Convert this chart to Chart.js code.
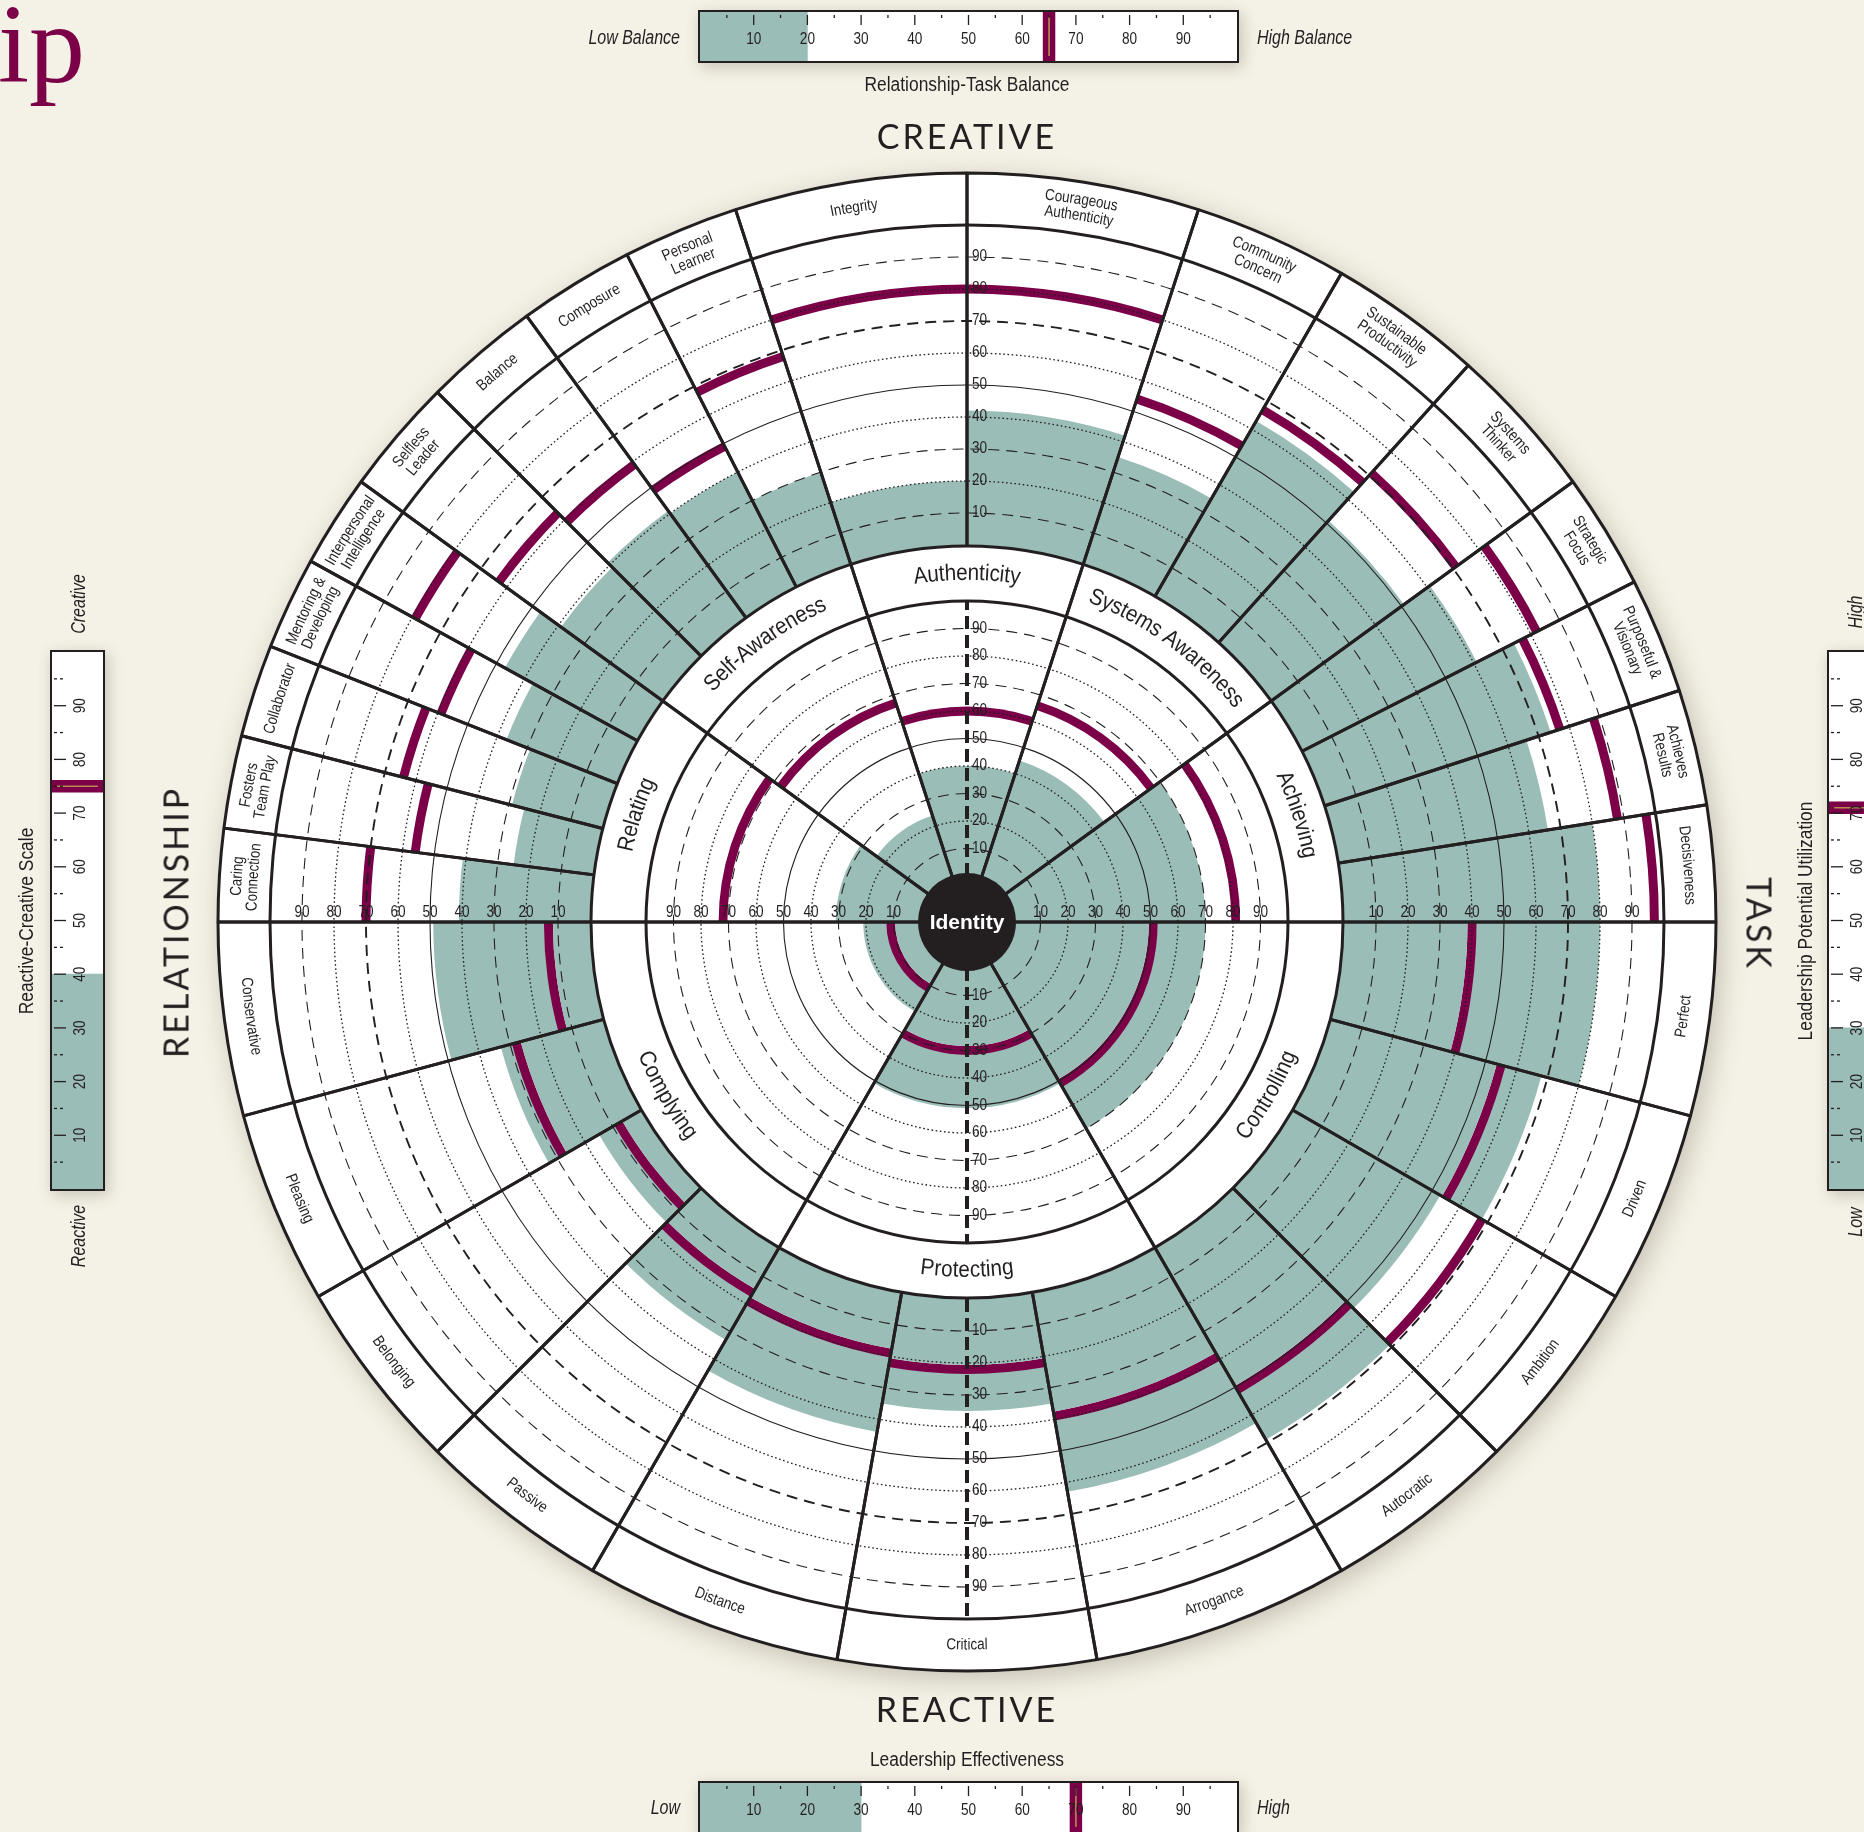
<!DOCTYPE html>
<html lang="en">
<head>
<meta charset="utf-8">
<title>Leadership Circle</title>
<script src="https://cdn.jsdelivr.net/npm/chart.js@4.4.1/dist/chart.umd.min.js"></script>
<style>
  html, body { margin: 0; padding: 0; }
  body {
    width: 1864px; height: 1832px; position: relative; overflow: hidden;
    background: #f4f1e6; color: #231f20;
    font-family: "Liberation Sans", Arial, sans-serif;
  }
  .t { position: absolute; white-space: nowrap; transform: translate(-50%, -50%) scaleX(0.87); }
  .t.it { transform: translate(-50%, -50%) scaleX(0.8); }
  .t.ra { transform-origin: 100% 50%; transform: translate(-100%, -50%) scaleX(0.8); }
  .t.la { transform-origin: 0 50%; transform: translate(0, -50%) scaleX(0.8); }
  .t.up { transform: translate(-50%, -50%) rotate(-90deg) scaleX(0.87); }
  .t.up.it { transform: translate(-50%, -50%) rotate(-90deg) scaleX(0.8); }
  .t.down { transform: translate(-50%, -50%) rotate(90deg); }
  .note { font-size: 20px; }
  .it { font-style: italic; }
  .t.big { font-family: Lato, "Open Sans", sans-serif; font-size: 34px; letter-spacing: 3px; }
  .t.big.up { transform: translate(-50%, -50%) rotate(-90deg); }
  .t.big:not(.up):not(.down) { transform: translate(-50%, -50%); }
  .halo {
    position: absolute; left: 218px; top: 173px; width: 1498px; height: 1498px;
    border-radius: 50%; box-shadow: 5px 7px 28px rgba(70, 60, 40, 0.28);
  }
  .bar {
    position: absolute; box-sizing: border-box; border: 2px solid #231f20;
    background: #fff; box-shadow: 3px 4px 14px rgba(70, 60, 40, 0.25);
  }
  .bar canvas { display: block; }
  #wheel { position: absolute; left: 0; top: 0; }
  .brand {
    position: absolute; left: -58px; top: -12px; font-family: "Liberation Serif", serif;
    font-size: 112px; line-height: 112px; color: #7b0048;
  }
</style>
</head>
<body>
<div class="brand">hip</div>
<div class="halo"></div>
<canvas id="wheel" width="1864" height="1832"></canvas>

<div class="bar" style="left:698px; top:10px; width:541px; height:53px;"><canvas id="bar0" width="537" height="49"></canvas></div>
<div class="bar" style="left:698px; top:1781px; width:541px; height:53px;"><canvas id="bar1" width="537" height="49"></canvas></div>
<div class="bar" style="left:50px; top:650px; width:55px; height:541px;"><canvas id="bar2" width="51" height="537"></canvas></div>
<div class="bar" style="left:1827px; top:650px; width:55px; height:541px;"><canvas id="bar3" width="51" height="537"></canvas></div>

<div class="t note it ra" style="left:680px; top:37px;">Low Balance</div>
<div class="t note it la" style="left:1257px; top:37px;">High Balance</div>
<div class="t note" id="title0" style="left:967px; top:84px;"></div>
<div class="t note" id="title1" style="left:967px; top:1759px;"></div>
<div class="t note it ra" style="left:680px; top:1807px;">Low</div>
<div class="t note it la" style="left:1257px; top:1807px;">High</div>
<div class="t note up" id="title2" style="left:26px; top:921px;"></div>
<div class="t note it up" style="left:78px; top:604px;">Creative</div>
<div class="t note it up" style="left:78px; top:1236px;">Reactive</div>
<div class="t note up" id="title3" style="left:1805px; top:921px;"></div>
<div class="t note it up" style="left:1855px; top:612px;">High</div>
<div class="t note it up" style="left:1855px; top:1222px;">Low</div>

<div class="t big" style="left:967px; top:135px;">CREATIVE</div>
<div class="t big" style="left:967px; top:1708px;">REACTIVE</div>
<div class="t big up" style="left:175px; top:922px;">RELATIONSHIP</div>
<div class="t big down" style="left:1760px; top:924px;">TASK</div>

<script>
// ---- data ----
const INNER_NAMES = ["Relating", "Self-Awareness", "Authenticity", "Systems Awareness",
                     "Achieving", "Controlling", "Protecting", "Complying"];
const INNER_SIZE = [5, 4, 2, 3, 4, 4, 3, 4];   // outer dimensions in each summary group
const INNER_PCT = [31, 24, 40, 45, 70, 70, 51, 21];
const INNER_SCORE = [72, 67, 60, 66, 81, 51, 30, 11];

const OUTER_NAMES = [
  ["Caring", "Connection"], ["Fosters", "Team Play"], ["Collaborator"], ["Mentoring &", "Developing"],
  ["Interpersonal", "Intelligence"], ["Selfless", "Leader"], ["Balance"], ["Composure"],
  ["Personal", "Learner"], ["Integrity"], ["Courageous", "Authenticity"], ["Community", "Concern"],
  ["Sustainable", "Productivity"], ["Systems", "Thinker"], ["Strategic", "Focus"],
  ["Purposeful &", "Visionary"], ["Achieves", "Results"], ["Decisiveness"],
  ["Perfect"], ["Driven"], ["Ambition"], ["Autocratic"], ["Arrogance"], ["Critical"],
  ["Distance"], ["Passive"], ["Belonging"], ["Pleasing"], ["Conservative"]
];
const OUTER_PCT = [41, 25, 29, 37, 47, 39, 41, 40, 30, 20, 42, 35, 63, 51, 61, 74, 66, 80,
                   80, 68, 53, 69, 63, 35, 44, 33, 15, 33, 49];
const OUTER_SCORE = [70, 56, 64, 59, 79, 63, 59, 49, 68, 80, 80, 54, 67, 71, 82, 77, 88, 97,
                     40, 55, 68, 51, 39, 22, 19, 16, 8, 28, 13];

const SCALE_TICKS = [10, 20, 30, 40, 50, 60, 70, 80, 90];

const BAR_NAMES = ["Relationship-Task Balance", "Leadership Effectiveness",
                   "Reactive-Creative Scale", "Leadership Potential Utilization"];
const BAR_PCT = [20, 30, 40, 30];
const BAR_SCORE = [65, 70, 75, 71];

// ---- layout ----
const INK = "#231f20", TEAL = "#9bbdb7", PLUM = "#7b0048", WHITE = "#ffffff";
const SANS = '"Liberation Sans", Arial, sans-serif';
const INNER_SPAN = [36, 36, 36, 36, 36, 60, 60, 60];
const OUTER_SPAN = INNER_SPAN.flatMap((s, g) => Array(INNER_SIZE[g]).fill(s / INNER_SIZE[g]));

const DRAW_R = 760;                 // radius of the chart area
const RIM_R = 749, BAND_R = 376, IDENT_R = 49;

function radialRange(r0, r100) {
  const k = (r100 - r0) / 100;
  const min = -r0 / k;
  return { min, max: min + DRAW_R / k, at: r => min + r / k };
}
const OUT = radialRange(377, 697);
const IN = radialRange(46, 321);

BAR_NAMES.forEach((n, i) => { document.getElementById("title" + i).textContent = n; });

// ---- wheel ----
const fill = (axis, data, spans, color, order) =>
  ({ rAxisID: axis, data, angle: spans, backgroundColor: color, borderWidth: 0, order });
const outline = (axis, value, spans, order) =>
  ({ rAxisID: axis, data: spans.map(() => value), angle: spans,
     backgroundColor: "rgba(0,0,0,0)", borderColor: INK, borderWidth: 3, order });

function layers(axis, pct, score, half, spans, base) {
  return [
    fill(axis, pct, spans, TEAL, base + 4),
    fill(axis, score.map(v => v + half), spans, PLUM, base + 3),
    fill(axis, score.map(v => v - half), spans, WHITE, base + 2),
    fill(axis, pct.map((p, i) => Math.min(p, score[i] - half)), spans, TEAL, base + 1)
  ];
}

function ringScale(range, bold70) {
  return {
    type: "radialLinear", axis: "r", startAngle: 270, min: range.min, max: range.max,
    afterBuildTicks: s => { s.ticks = SCALE_TICKS.concat(100).map(value => ({ value })); },
    ticks: { display: false },
    pointLabels: { display: false },
    angleLines: { display: false },
    grid: {
      circular: true, z: 1, color: INK,
      lineWidth: c => {
        const v = c.tick ? c.tick.value : 0;
        if (v === 100) return 3;
        if (bold70 && v === 70) return 1.9;
        return (v / 10) % 2 ? 1.1 : 1.3;
      }
    },
    border: {
      dash: c => {
        const v = c.tick ? c.tick.value : 50;
        if (v === 50 || v === 100) return [];
        return (v / 10) % 2 ? [11, 7] : [1.6, 2.6];
      }
    }
  };
}

// draw text squeezed horizontally, like a condensed face
function squeezed(ctx, text, x, y, k) {
  ctx.save();
  ctx.translate(x, y);
  ctx.scale(k, 1);
  ctx.fillText(text, 0, 0);
  ctx.restore();
}

function arcText(ctx, text, cx, cy, r, theta, top, k) {
  const w = ctx.measureText(text).width * k;
  let acc = 0;
  for (const ch of text) {
    const cw = ctx.measureText(ch).width * k;
    const off = (acc + cw / 2 - w / 2) / r;
    const phi = top ? theta + off : theta - off;
    ctx.save();
    ctx.translate(cx + r * Math.cos(phi), cy + r * Math.sin(phi));
    ctx.rotate(top ? phi + Math.PI / 2 : phi - Math.PI / 2);
    ctx.scale(k, 1);
    ctx.fillText(ch, 0, 0);
    ctx.restore();
    acc += cw;
  }
}

function bandLabels(ctx, names, spans, cx, cy, r, lh, k) {
  let a = Math.PI;
  names.forEach((lines, i) => {
    const span = spans[i] * Math.PI / 180;
    const mid = a + span / 2;
    a += span;
    const top = mid < 2 * Math.PI;
    const n = lines.length;
    lines.forEach((line, j) => {
      const rr = top ? r + (n - 1) / 2 * lh - j * lh : r - (n - 1) / 2 * lh + j * lh;
      arcText(ctx, line, cx, cy, rr, mid, top, k);
    });
  });
}

const wheelText = {
  id: "wheelText",
  afterDraw(chart) {
    const ctx = chart.ctx;
    const so = chart.scales.rOut, si = chart.scales.rIn;
    const cx = so.xCenter, cy = so.yCenter;
    const dO = v => so.getDistanceFromCenterForValue(v);
    const dI = v => si.getDistanceFromCenterForValue(v);
    ctx.save();

    // dashed vertical axis where a segment straddles it
    ctx.strokeStyle = INK;
    ctx.lineWidth = 4;
    ctx.setLineDash([13, 6]);
    [[dI, -1], [dI, 1], [dO, 1]].forEach(([d, dir]) => {
      ctx.beginPath();
      ctx.moveTo(cx, cy + dir * d(0));
      ctx.lineTo(cx, cy + dir * d(100));
      ctx.stroke();
    });
    ctx.setLineDash([]);

    // scale numbers
    ctx.fillStyle = INK;
    ctx.font = "16px " + SANS;
    SCALE_TICKS.forEach(v => {
      [dI, dO].forEach(d => {
        const r = d(v);
        ctx.textAlign = "center";
        ctx.textBaseline = "alphabetic";
        squeezed(ctx, String(v), cx - r, cy - 5, 0.85);
        squeezed(ctx, String(v), cx + r, cy - 5, 0.85);
        ctx.textAlign = "left";
        ctx.textBaseline = "middle";
        squeezed(ctx, String(v), cx + 5, cy - r, 0.85);
        squeezed(ctx, String(v), cx + 5, cy + r, 0.85);
      });
    });

    // ring labels
    ctx.textAlign = "center";
    ctx.textBaseline = "middle";
    ctx.font = "16px " + SANS;
    bandLabels(ctx, OUTER_NAMES, OUTER_SPAN, cx, cy, (dO(100) + RIM_R) / 2, 16, 0.84);
    ctx.font = "23px " + SANS;
    bandLabels(ctx, INNER_NAMES.map(n => [n]), INNER_SPAN, cx, cy, (dI(100) + BAND_R) / 2, 0, 0.9);

    ctx.fillStyle = WHITE;
    ctx.font = "bold 21px " + SANS;
    ctx.fillText("Identity", cx, cy + 1);
    ctx.restore();
  }
};

new Chart(document.getElementById("wheel"), {
  type: "polarArea",
  data: {
    labels: OUTER_NAMES.map(n => n.join(" ")),
    datasets: [
      fill("rOut", OUTER_SPAN.map(() => OUT.at(RIM_R)), OUTER_SPAN, WHITE, 30),
      ...layers("rOut", OUTER_PCT, OUTER_SCORE, 1.4, OUTER_SPAN, 24),
      outline("rOut", OUT.at(RIM_R), OUTER_SPAN, 20),
      fill("rIn", INNER_SPAN.map(() => IN.at(BAND_R)), INNER_SPAN, WHITE, 18),
      ...layers("rIn", INNER_PCT, INNER_SCORE, 1.6, INNER_SPAN, 12),
      outline("rIn", IN.at(BAND_R), INNER_SPAN, 10),
      fill("rIn", INNER_SPAN.map(() => IN.at(IDENT_R)), INNER_SPAN, INK, 8)
    ]
  },
  options: {
    responsive: false,
    animation: false,
    events: [],
    layout: { padding: { left: 207, right: 137, top: 162, bottom: 150 } },
    scales: { rOut: ringScale(OUT, true), rIn: ringScale(IN, false) },
    plugins: { legend: { display: false }, tooltip: { enabled: false } }
  },
  plugins: [wheelText]
});

// ---- side bars ----
const barTicks = {
  id: "barTicks",
  afterDatasetsDraw(chart) {
    const horiz = chart.options.indexAxis === "y";
    const sc = horiz ? chart.scales.x : chart.scales.y;
    const a = chart.chartArea, ctx = chart.ctx;
    ctx.save();
    ctx.strokeStyle = INK;
    ctx.fillStyle = INK;
    ctx.lineWidth = 1.3;
    ctx.font = "16px " + SANS;
    ctx.textAlign = "center";
    ctx.textBaseline = "middle";
    const minor = SCALE_TICKS.map(v => v - 5).concat(95);
    minor.forEach(v => {
      const p = sc.getPixelForValue(v);
      ctx.setLineDash([3, 3]);
      ctx.beginPath();
      if (horiz) { ctx.moveTo(p, a.top + 3); ctx.lineTo(p, a.top + 9); }
      else { ctx.moveTo(a.left + 2, p); ctx.lineTo(a.left + 11, p); }
      ctx.stroke();
    });
    ctx.setLineDash([]);
    SCALE_TICKS.forEach(v => {
      const p = sc.getPixelForValue(v);
      ctx.beginPath();
      if (horiz) { ctx.moveTo(p, a.top + 3); ctx.lineTo(p, a.top + 13); }
      else { ctx.moveTo(a.left + 2, p); ctx.lineTo(a.left + 14, p); }
      ctx.stroke();
      ctx.save();
      if (horiz) {
        ctx.translate(p, a.top + a.height * 0.56);
      } else {
        ctx.translate(a.left + a.width * 0.5 + 3, p);
        ctx.rotate(-Math.PI / 2);
      }
      ctx.scale(0.85, 1);
      ctx.fillText(String(v), 0, 0);
      ctx.restore();
    });
    ctx.restore();
  }
};

function makeBar(id, horiz, pct, score) {
  const valueScale = { type: "linear", min: 0, max: 100, display: false };
  const indexScale = { display: false };
  new Chart(document.getElementById(id), {
    type: "bar",
    data: {
      labels: [""],
      datasets: [
        { data: [[0, pct]], backgroundColor: TEAL, order: 3 },
        { data: [[score - 1.1, score + 1.1]], backgroundColor: PLUM, order: 2 },
        { data: [[score - 0.15, score + 0.15]], backgroundColor: "#b98a4e", barPercentage: 0.8, order: 1 }
      ]
    },
    options: {
      indexAxis: horiz ? "y" : "x",
      responsive: false,
      animation: false,
      events: [],
      layout: { padding: 0 },
      datasets: { bar: { grouped: false, barPercentage: 1, categoryPercentage: 1, borderWidth: 0 } },
      scales: { x: horiz ? valueScale : indexScale, y: horiz ? indexScale : valueScale },
      plugins: { legend: { display: false }, tooltip: { enabled: false } }
    },
    plugins: [barTicks]
  });
}

BAR_PCT.forEach((p, i) => makeBar("bar" + i, i < 2, p, BAR_SCORE[i]));
</script>
</body>
</html>
